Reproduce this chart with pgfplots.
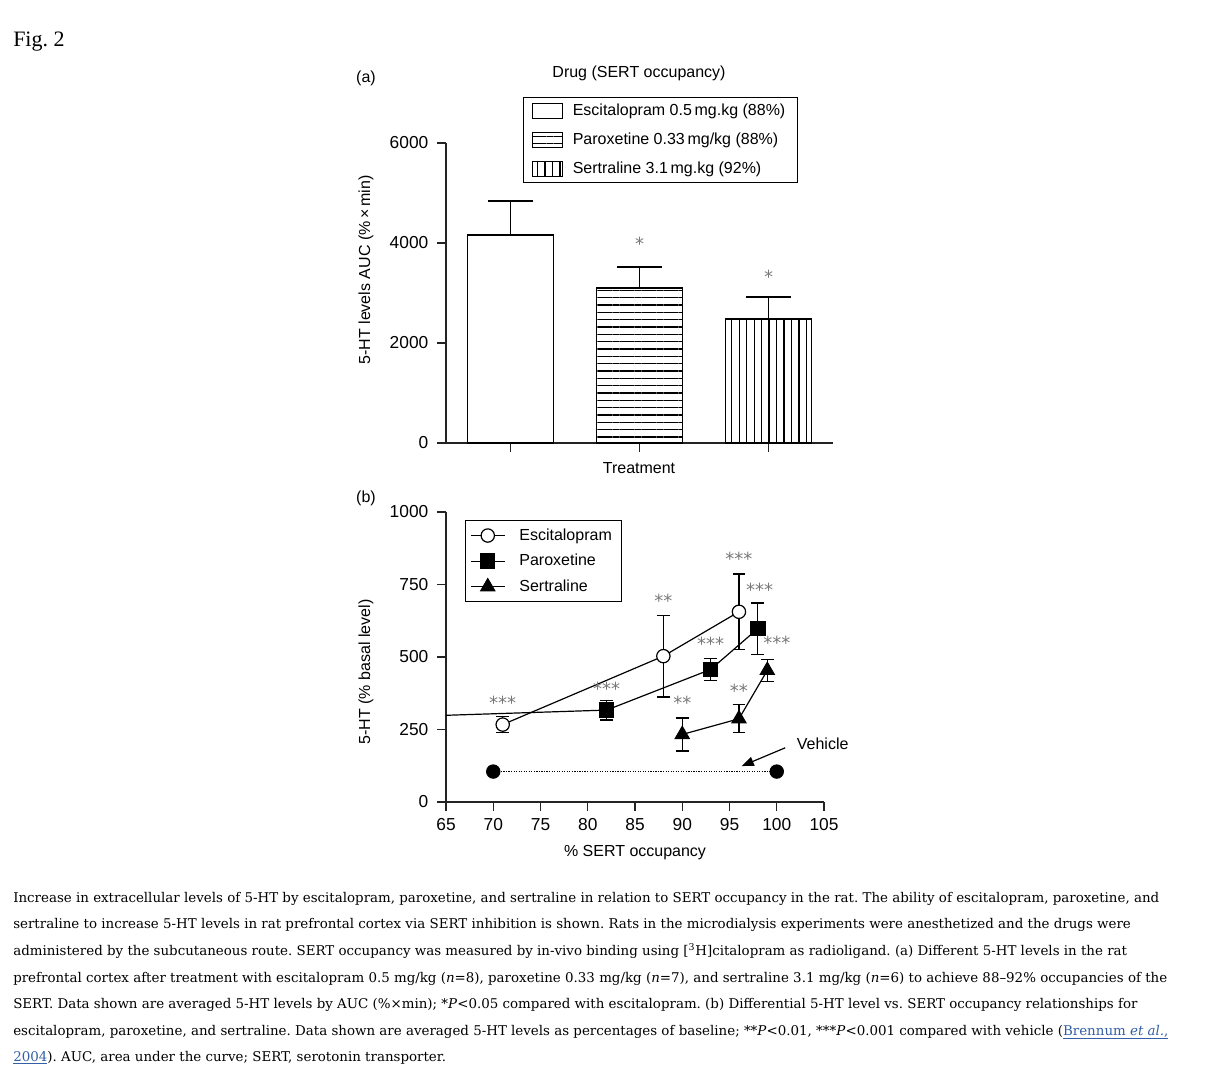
\documentclass[border=0pt]{standalone}
\usepackage{pgfplots}
\pgfplotsset{compat=1.18}
\usetikzlibrary{patterns.meta,arrows.meta}
\usepackage{fontspec}
\setmainfont{DejaVu Serif}
\setsansfont{Liberation Sans}
\newfontfamily\figfont{Liberation Serif}
\newfontfamily\starfont{DejaVu Sans}
\frenchspacing
\definecolor{axgray}{RGB}{35,35,35}
\definecolor{stargray}{RGB}{120,120,120}
\definecolor{linkblue}{RGB}{50,95,165}
\newcommand\lab{\sffamily\fontsize{12}{14}\selectfont}
\newcommand\tlab{\sffamily\fontsize{13}{15}\selectfont}
\newcommand\capfont{\fontsize{10.05}{12}\selectfont}
\newcommand\stars[1]{{\starfont\fontsize{13.5}{13.5}\selectfont\raisebox{-3.6pt}{#1}}}

\pgfplotsset{
  panel/.style={
    scale only axis, clip=false,
    axis x line=bottom, axis y line=left,
    axis line style={-, line width=1pt, axgray},
    tick align=outside, major tick length=6.75pt,
    tick style={line width=1pt, axgray},
    ticklabel style={font=\tlab},
    yticklabel style={xshift=-3pt},
    xticklabel style={yshift=-2pt},
    /pgf/number format/assume math mode=true,
    /pgf/number format/1000 sep={},
    scaled ticks=false,
  },
}

\begin{document}
\begin{tikzpicture}
\begin{scope}[x=0.75pt,y=-0.75pt]
\useasboundingbox (0,0) rectangle (1209,1075);
\node[anchor=base west, font=\figfont\fontsize{16.5}{20}\selectfont, inner sep=0pt] at (13,46) {Fig. 2};
\node[font=\lab] at (366,78) {(a)};
\node[font=\lab] at (639,73) {Drug (SERT occupancy)};
\node[font=\lab] at (639,468) {Treatment};
\node[font=\lab, rotate=90] at (366,270) {5-HT levels AUC (\%\,×\,min)};
\node[font=\lab] at (366,498) {(b)};
\node[font=\lab, rotate=90] at (366,672) {5-HT (\% basal level)};
\node[font=\lab] at (635,853) {\% SERT occupancy};
\begin{scope}[every node/.style={anchor=base west, inner sep=0pt, font=\capfont}]
\node at (13,902) {Increase in extracellular levels of 5-HT by escitalopram, paroxetine, and sertraline in relation to SERT occupancy in the rat. The ability of escitalopram, paroxetine, and};
\node at (13,928) {sertraline to increase 5-HT levels in rat prefrontal cortex via SERT inhibition is shown. Rats in the microdialysis experiments were anesthetized and the drugs were};
\node at (13,955) {administered by the subcutaneous route. SERT occupancy was measured by in-vivo binding using [\textsuperscript{3}H]citalopram as radioligand. (a) Different 5-HT levels in the rat};
\node at (13,982) {prefrontal cortex after treatment with escitalopram 0.5 mg/kg (\textit{n}=8), paroxetine 0.33 mg/kg (\textit{n}=7), and sertraline 3.1 mg/kg (\textit{n}=6) to achieve 88–92\% occupancies of the};
\node at (13,1008) {SERT. Data shown are averaged 5-HT levels by AUC (\%×min); *\textit{P}<0.05 compared with escitalopram. (b) Differential 5-HT level vs. SERT occupancy relationships for};
\node at (13,1035) {escitalopram, paroxetine, and sertraline. Data shown are averaged 5-HT levels as percentages of baseline; **\textit{P}<0.01, ***\textit{P}<0.001 compared with vehicle (\textcolor{linkblue}{\underline{Brennum \textit{et al.},}}};
\node at (13,1061) {\textcolor{linkblue}{\underline{2004}}). AUC, area under the curve; SERT, serotonin transporter.};
\end{scope}
\end{scope}

% (a) bar chart
\begin{axis}[panel,
  at={(334.5pt,-332.25pt)}, anchor=south west,
  width=290.25pt, height=225pt,
  xmin=-0.5, xmax=2.5, ymin=0, ymax=6000,
  xtick={0,1,2}, xticklabels={}, ytick={0,2000,4000,6000},
  legend style={at={(0.199,1.153)}, anchor=north west, draw=black, line width=0.9pt,
    font=\lab, row sep=7.5pt, inner xsep=6.5pt, inner ysep=3pt,
    nodes={inner xsep=2.5pt}, cells={anchor=west}},
  legend image code/.code={\draw[#1, line width=0.8pt] (0pt,-5.5pt) rectangle (22pt,5.5pt); \path (27pt,0pt);},
]
\addplot[ybar, bar width=0.67, bar shift=0pt, draw=black, line width=1pt, fill=white,
  error bars/.cd, y dir=plus, y explicit,
  error bar style={line width=1pt, black},
  error mark options={rotate=90, mark size=17pt, line width=1pt}]
  coordinates {(0,4160) +- (0,680)};
\addlegendentry{Escitalopram 0.5\,mg.kg (88\%)}
\addplot[ybar, bar width=0.67, bar shift=0pt, draw=black, line width=1pt,
  pattern={Lines[angle=0,distance=5.5pt,line width=0.9pt]}, pattern color=black,
  error bars/.cd, y dir=plus, y explicit,
  error bar style={line width=1pt, black},
  error mark options={rotate=90, mark size=17pt, line width=1pt}]
  coordinates {(1,3100) +- (0,420)};
\addlegendentry{Paroxetine 0.33\,mg/kg (88\%)}
\addplot[ybar, bar width=0.67, bar shift=0pt, draw=black, line width=1pt,
  pattern={Lines[angle=90,distance=5.6pt,line width=0.9pt]}, pattern color=black,
  error bars/.cd, y dir=plus, y explicit,
  error bar style={line width=1pt, black},
  error mark options={rotate=90, mark size=17pt, line width=1pt}]
  coordinates {(2,2480) +- (0,440)};
\addlegendentry{Sertraline 3.1\,mg.kg (92\%)}
\node[stargray, inner sep=0pt] at (axis cs:1,3980) {\stars{*}};
\node[stargray, inner sep=0pt] at (axis cs:2,3320) {\stars{*}};
\end{axis}

% (b) occupancy curves
\begin{axis}[panel,
  at={(334.5pt,-601.5pt)}, anchor=south west,
  width=283.5pt, height=217.5pt,
  xmin=65, xmax=105, ymin=0, ymax=1000,
  xtick={65,70,...,105}, ytick={0,250,500,750,1000},
  legend style={at={(0.05,0.972)}, anchor=north west, draw=black, line width=0.9pt,
    font=\lab, row sep=5pt, inner xsep=3.5pt, inner ysep=4pt,
    nodes={inner xsep=4pt}, cells={anchor=west}},
  legend image code/.code={\draw[mark repeat=2, mark phase=2, #1] plot coordinates {(0pt,0pt) (12.75pt,0pt) (25.5pt,0pt)}; \path (32pt,0pt);},
  every axis plot/.append style={line width=0.9pt},
]
\addplot[black, forget plot] coordinates {(65,299) (82,317)};
\addplot[black, mark=*, mark size=5pt, mark options={fill=white, solid},
  error bars/.cd, y dir=both, y explicit,
  error bar style={line width=0.9pt, black},
  error mark options={rotate=90, mark size=4.8pt, line width=0.9pt}]
  coordinates {(71,267) +- (0,27) (88,503) +- (0,141) (96,656) +- (0,130)};
\addlegendentry{Escitalopram}
\addplot[black, mark=square*, mark size=5.3pt, mark options={fill=black, solid},
  error bars/.cd, y dir=both, y explicit,
  error bar style={line width=0.9pt, black},
  error mark options={rotate=90, mark size=4.8pt, line width=0.9pt}]
  coordinates {(82,317) +- (0,34) (93,457) +- (0,38) (98,598) +- (0,88)};
\addlegendentry{Paroxetine}
\addplot[black, mark=triangle*, mark size=6pt, mark options={fill=black, solid},
  error bars/.cd, y dir=both, y explicit,
  error bar style={line width=0.9pt, black},
  error mark options={rotate=90, mark size=4.8pt, line width=0.9pt}]
  coordinates {(90,233) +- (0,57) (96,287) +- (0,48) (99,454) +- (0,38)};
\addlegendentry{Sertraline}
\addplot[black, densely dotted, line width=0.8pt, mark=*, mark size=5pt,
  mark options={solid, fill=black}, forget plot]
  coordinates {(70,105) (100,105)};
\draw[-{Triangle[length=9pt,width=7pt]}, line width=0.9pt, black]
  (axis cs:100.9,187) -- (axis cs:96.3,124);
\node[anchor=west, font=\lab, inner sep=0pt] at (axis cs:102.1,200) {Vehicle};
\begin{scope}[every node/.style={stargray, inner sep=0pt}]
\node at (axis cs:71,343) {\stars{***}};
\node at (axis cs:82,391) {\stars{***}};
\node at (axis cs:88,693) {\stars{**}};
\node at (axis cs:93,544) {\stars{***}};
\node at (axis cs:90,341) {\stars{**}};
\node at (axis cs:96,840) {\stars{***}};
\node at (axis cs:98.2,733) {\stars{***}};
\node at (axis cs:96,382) {\stars{**}};
\node at (axis cs:100,549) {\stars{***}};
\end{scope}
\end{axis}
\end{tikzpicture}
\end{document}
